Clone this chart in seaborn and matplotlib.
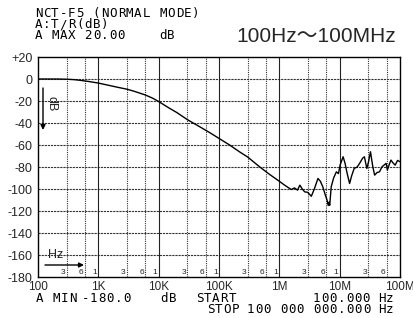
import pandas as pd
import matplotlib.pyplot as plt
import seaborn as sns

freq_hz = [100, 200, 300, 400, 500, 700, 1000, 1500, 2000, 3000, 4000, 6000, 8000,
           10000, 15000, 20000, 30000, 50000, 70000, 100000, 150000, 220000, 300000,
           470000, 700000, 1.0e6, 1.26e6, 1.58e6, 1.78e6, 2.0e6, 2.19e6, 2.4e6, 2.63e6,
           2.95e6, 3.39e6, 3.8e6, 4.37e6, 4.79e6, 5.25e6, 5.75e6, 6.17e6, 6.46e6,
           6.65e6, 6.84e6, 7.24e6, 7.94e6, 8.81e6, 9.55e6, 1.02e7, 1.14e7, 1.23e7,
           1.32e7, 1.46e7, 1.58e7, 1.74e7, 1.95e7, 2.14e7, 2.4e7, 2.57e7, 2.82e7,
           3.02e7, 3.24e7, 3.55e7, 3.8e7, 4.17e7, 4.57e7, 5.01e7, 5.5e7, 5.89e7,
           6.17e7, 6.61e7, 7.08e7, 7.59e7, 8.32e7, 9.12e7, 1.0e8]
gain_db = [0, 0, -0.2, -0.6, -1.2, -2.3, -3.7, -5.8, -7.3, -9.3, -11.3, -14.5, -17.5,
           -20.5, -26.5, -30.5, -37, -44, -48.7, -54, -60, -66.3, -71,
           -79.8, -87, -93, -97, -100.5, -99, -101, -96.5, -100, -102.6,
           -103, -106.6, -100, -90.4, -93, -98, -105, -110, -115,
           -112, -114.8, -98, -90, -84.4, -86, -78, -70.7, -76.7,
           -85, -95, -88, -81.3, -80, -76.7, -72, -70.7, -81.3,
           -75, -66.1, -80, -87.4, -85, -84.4, -80, -78, -76.7,
           -82.8, -78, -73.7, -76, -78.3, -74, -75.2]

y_ticks = [20, 0, -20, -40, -60, -80, -100, -120, -140, -160, -180]
y_labels = ['+20', '0', '-20', '-40', '-60', '-80', '-100', '-120', '-140', '-160', '-180']
x_ticks = [1e2, 1e3, 1e4, 1e5, 1e6, 1e7, 1e8]
x_labels = ['100', '1K', '10K', '100K', '1M', '10M', '100M']
minor_steps = [3, 6]

W, H = 414, 318
sns.set_style('white')
plt.rcParams['font.family'] = ['Liberation Sans', 'Noto Sans CJK JP', 'DejaVu Sans']


def px(x, y):
    return x / W, 1 - y / H


def mono(x, y, s, pitch=8.3):
    # printer font: wide fixed pitch
    for i, ch in enumerate(s):
        if ch != ' ':
            fig.text(*px(x + i * pitch + 3.4, y), ch, family='DejaVu Sans Mono',
                     fontsize=9, ha='center', va='center', color='black')


fig = plt.figure(figsize=(W / 100, H / 100), dpi=100)
ax = fig.add_axes([38 / W, 1 - 277 / H, 362 / W, 220 / H])

df = pd.DataFrame({'freq': freq_hz, 'gain': gain_db})
sns.lineplot(data=df, x='freq', y='gain', ax=ax, color='black', linewidth=1.0)

ax.set_xscale('log')
ax.set_xlim(1e2, 1e8)
ax.set_ylim(-180, 20)

for y in y_ticks[1:-1]:
    ax.axhline(y, color='#333333', linewidth=0.8, linestyle=(0, (2, 0.8)), zorder=0)
for i, dec in enumerate(x_ticks[:-1]):
    if i > 0:
        ax.axvline(dec, color='#222222', linewidth=0.8, zorder=0)
    for m in minor_steps:
        ax.axvline(dec * m, color='#333333', linewidth=0.8, linestyle=(0, (1, 1)), zorder=0)
        ax.annotate(str(m), xy=(dec * m, -180), xytext=(-1, 1), textcoords='offset points',
                    ha='right', va='bottom', fontsize=6)
    if i > 0:
        ax.annotate('1', xy=(dec, -180), xytext=(-1, 1), textcoords='offset points',
                    ha='right', va='bottom', fontsize=6)

ax.set_yticks(y_ticks, y_labels)
ax.set_xticks(x_ticks, x_labels)
ax.minorticks_off()
ax.tick_params(length=0, labelsize=9)
ax.tick_params(axis='y', pad=4)
ax.tick_params(axis='x', pad=3, labelsize=8.5)
ax.set_xlabel('')
ax.set_ylabel('')
for sp in ax.spines.values():
    sp.set_color('black')
    sp.set_linewidth(1.0)

# axis hints inside the plot
fig.text(*px(52, 104), 'dB', rotation=270, fontsize=9, ha='center', va='center')
ax.annotate('', xy=px(43, 130), xytext=px(43, 88), xycoords='figure fraction',
            textcoords='figure fraction',
            arrowprops=dict(arrowstyle='-|>', color='black', lw=1.0, mutation_scale=7,
                            shrinkA=0, shrinkB=0))
fig.text(*px(48, 255), 'Hz', fontsize=9, ha='left', va='center')
ax.annotate('', xy=px(84, 265), xytext=px(45, 265), xycoords='figure fraction',
            textcoords='figure fraction',
            arrowprops=dict(arrowstyle='-|>', color='black', lw=1.0, mutation_scale=7,
                            shrinkA=0, shrinkB=0))

# header
mono(35, 13.5, 'NCT-F5 (NORMAL MODE)')
mono(35, 24.5, 'A:T/R(dB)')
mono(35, 35.5, 'A MAX 20.00    dB')
fig.text(*px(236, 36), '100Hz\uff5e100MHz', fontsize=15, ha='left', va='center',
         family=['Liberation Sans', 'Noto Sans CJK JP'])

# footer
mono(36, 298.5, 'A MIN')
mono(82, 298.5, '-180.0')
mono(161, 298.5, 'dB')
mono(196, 298, 'START')
mono(313, 298, '100.000')
mono(378, 298, 'Hz')
mono(207, 309.5, 'STOP')
mono(247, 309.5, '100 000 000.000')
mono(378, 309.5, 'Hz')

fig.savefig('out.png', dpi=100)
